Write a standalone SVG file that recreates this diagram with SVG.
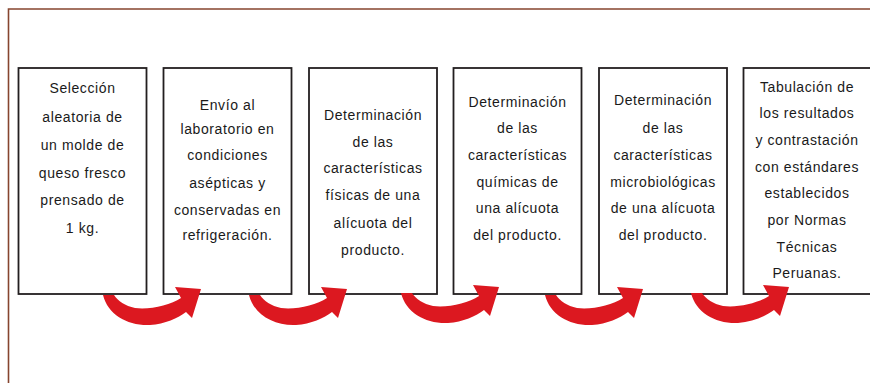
<svg xmlns="http://www.w3.org/2000/svg" xmlns:xlink="http://www.w3.org/1999/xlink" width="870" height="383" viewBox="0 0 870 383">
<style>
.frame{fill:none;stroke:#86452f;stroke-width:1.6}
.box{fill:#ffffff;stroke:#231f20;stroke-width:1.8}
.t{font-family:"Liberation Sans",Arial,sans-serif;font-size:14px;fill:#1a1a1a;text-anchor:middle;letter-spacing:0.6px}
.arrow{fill:#dc1820}
</style>
<defs>
<path id="arrow" d="M 103 295 C 108 315, 128 326, 150 325 C 165 324, 178 318, 186 312 L 192 318 L 201 289 L 175 287 L 181 298 C 170 305, 150 310, 135 308 C 125 306, 118 301, 114 295 Z"/>
</defs>
<rect width="870" height="383" fill="#ffffff"/>
<path class="frame" d="M 8.5 383 L 8.5 9 L 870 9"/>
<g id="n1">
<rect class="box" x="18.5" y="68" width="128" height="226"/>
<text class="t" x="82.5" y="93">Selección</text>
<text class="t" x="82.5" y="122">aleatoria de</text>
<text class="t" x="82.5" y="150">un molde de</text>
<text class="t" x="82.5" y="178">queso fresco</text>
<text class="t" x="82.5" y="205">prensado de</text>
<text class="t" x="82.5" y="233">1 kg.</text>
</g>
<g id="n2">
<rect class="box" x="163.5" y="68" width="128" height="226"/>
<text class="t" x="227.5" y="110">Envío al</text>
<text class="t" x="227.5" y="134">laboratorio en</text>
<text class="t" x="227.5" y="160">condiciones</text>
<text class="t" x="227.5" y="188">asépticas y</text>
<text class="t" x="227.5" y="215">conservadas en</text>
<text class="t" x="227.5" y="240">refrigeración.</text>
</g>
<g id="n3">
<rect class="box" x="309" y="68" width="128" height="226"/>
<text class="t" x="373" y="120">Determinación</text>
<text class="t" x="373" y="147">de las</text>
<text class="t" x="373" y="173">características</text>
<text class="t" x="373" y="200">físicas de una</text>
<text class="t" x="373" y="228">alícuota del</text>
<text class="t" x="373" y="255">producto.</text>
</g>
<g id="n4">
<rect class="box" x="453.5" y="68" width="128" height="226"/>
<text class="t" x="517.5" y="107">Determinación</text>
<text class="t" x="517.5" y="133">de las</text>
<text class="t" x="517.5" y="160">características</text>
<text class="t" x="517.5" y="187">químicas de</text>
<text class="t" x="517.5" y="213">una alícuota</text>
<text class="t" x="517.5" y="240">del producto.</text>
</g>
<g id="n5">
<rect class="box" x="599" y="68" width="128" height="226"/>
<text class="t" x="663" y="105">Determinación</text>
<text class="t" x="663" y="133">de las</text>
<text class="t" x="663" y="160">características</text>
<text class="t" x="663" y="187">microbiológicas</text>
<text class="t" x="663" y="213">de una alícuota</text>
<text class="t" x="663" y="240">del producto.</text>
</g>
<g id="n6">
<rect class="box" x="743.5" y="68" width="128" height="226"/>
<text class="t" x="807" y="92">Tabulación de</text>
<text class="t" x="807" y="118">los resultados</text>
<text class="t" x="807" y="145">y contrastación</text>
<text class="t" x="807" y="172">con estándares</text>
<text class="t" x="807" y="198">establecidos</text>
<text class="t" x="807" y="225">por Normas</text>
<text class="t" x="807" y="252">Técnicas</text>
<text class="t" x="807" y="278">Peruanas.</text>
</g>
<g id="connectors">
<use class="arrow" xlink:href="#arrow" href="#arrow"/>
<use class="arrow" xlink:href="#arrow" href="#arrow" transform="translate(146 0)"/>
<use class="arrow" xlink:href="#arrow" href="#arrow" transform="translate(298 -2)"/>
<use class="arrow" xlink:href="#arrow" href="#arrow" transform="translate(442 0)"/>
<use class="arrow" xlink:href="#arrow" href="#arrow" transform="translate(588 -2)"/>
</g>
</svg>
